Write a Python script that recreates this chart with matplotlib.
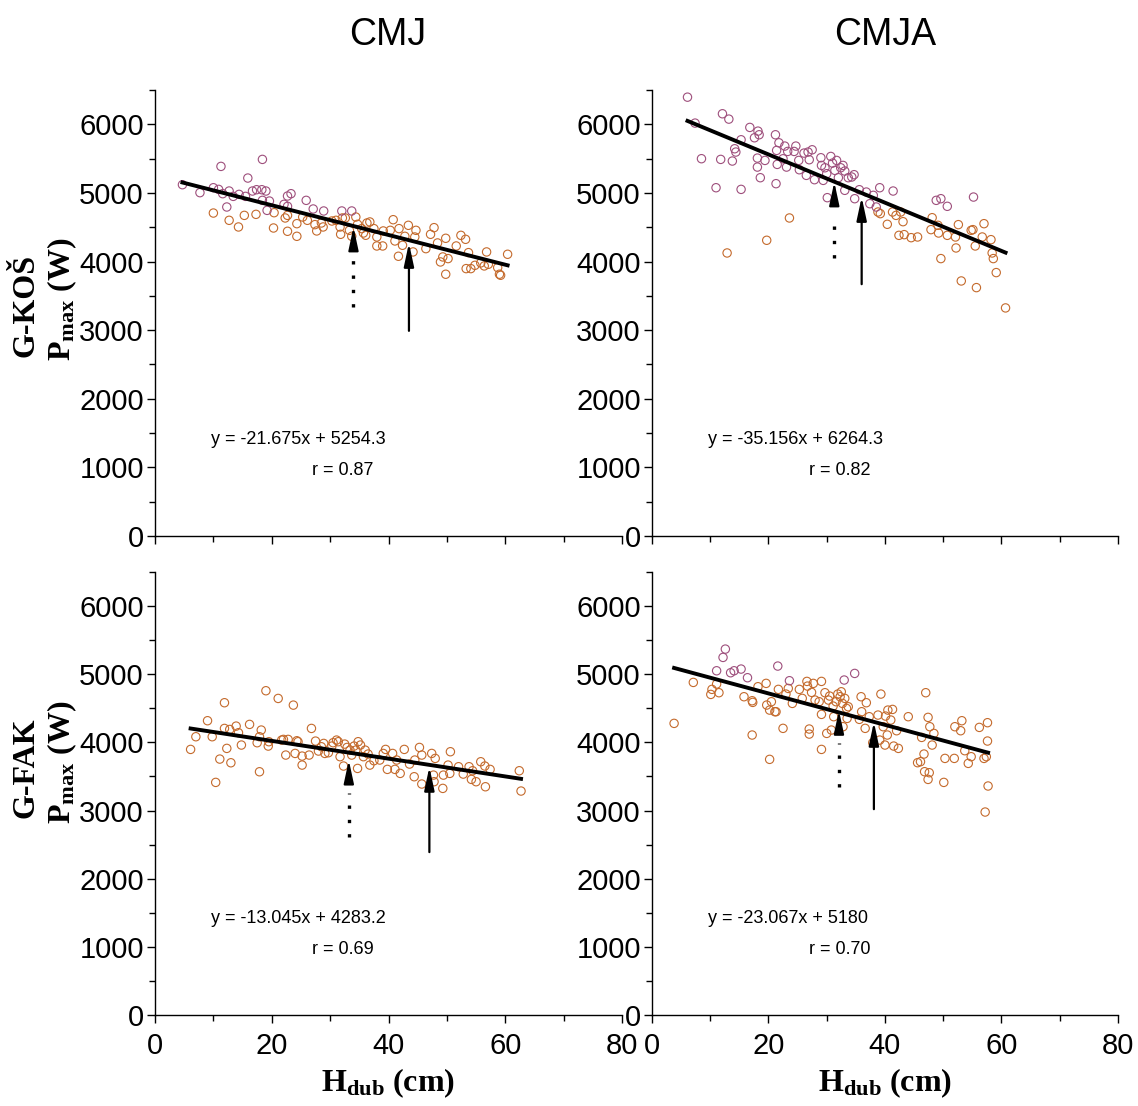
import numpy as np
import matplotlib
matplotlib.use("Agg")
from matplotlib import pyplot as plt
from matplotlib import font_manager
from matplotlib.ticker import MultipleLocator

# ---- data ----
# G-KOS / CMJ
tl_x = [4.7, 7.7, 10.0, 10.9, 11.3, 11.6, 12.7, 13.4, 14.4, 15.5, 15.9, 16.7, 17.4, 18.4, 18.3, 19.0, 18.4, 19.2,
        19.6, 22.7, 23.3, 22.1, 22.7, 25.9, 27.1, 28.9, 32.0, 33.7,
        10.0, 12.3, 12.7, 14.3, 15.3, 17.3, 20.3, 20.4, 22.3, 22.7, 22.7, 24.3, 24.3, 25.3, 26.1, 27.4, 27.7,
        28.5, 28.8, 30.3, 31.0, 31.7, 31.8, 32.1, 32.6, 33.3, 33.7, 34.4, 34.7, 35.4, 35.7, 36.3, 36.8, 36.1,
        37.5, 38.0, 38.0, 39.0, 39.1, 40.3, 40.8, 41.1, 41.7, 41.8, 42.4, 42.8, 43.4, 44.2, 44.5, 44.7, 46.4,
        47.2, 47.8, 48.4, 48.9, 49.3, 49.8, 49.8, 50.2, 51.6, 52.4, 53.2, 53.3, 53.7, 54.1, 54.8, 55.8, 56.4,
        56.8, 57.1, 58.7, 59.0, 59.2, 60.4]
tl_y = [5120, 5004, 5076, 5052, 5387, 4989, 5028, 4950, 4979, 4950, 5217, 5028, 5047, 5489, 5047, 5028, 4892, 4746,
        4882, 4955, 4989, 4834, 4805, 4892, 4766, 4737, 4737, 4737,
        4707, 4795, 4601, 4504, 4673, 4688, 4489, 4712, 4635, 4441, 4673, 4552, 4368, 4649, 4601, 4538, 4446,
        4562, 4504, 4591, 4601, 4504, 4397, 4635, 4635, 4455, 4368, 4649, 4543, 4480, 4416, 4562, 4577, 4383,
        4480, 4358, 4227, 4227, 4446, 4455, 4610, 4300, 4077, 4480, 4237, 4368, 4528, 4140, 4358, 4455, 4188,
        4397, 4494, 4271, 3994, 4067, 3815, 4339, 4043, 4227, 4382, 4324, 3897, 4130, 3897, 3945, 3980, 3936,
        4140, 3960, 3912, 3815, 3800, 4106]

# G-KOS / CMJA
tr_x = [6.1, 7.4, 8.5, 11.8, 12.1, 13.2, 13.8, 14.2, 14.4, 11.0, 15.3, 15.3, 16.8, 17.6, 18.2, 18.4, 18.1, 18.1,
        18.6, 19.4, 21.2, 21.8, 21.4, 21.5, 21.3, 22.5, 22.8, 23.1, 23.3, 24.4, 24.7, 25.2, 25.3, 26.1, 26.5,
        27.0, 26.8, 27.5, 27.9, 29.0, 29.1, 29.4, 29.7, 30.0, 30.1, 30.7, 31.0, 31.4, 31.7, 32.0, 32.4, 32.8,
        33.1, 33.1, 33.7, 34.3, 34.7, 34.8, 35.6, 36.8, 37.4, 38.0, 38.5, 39.1, 41.4, 48.8, 49.6, 50.7, 55.2,
        12.9, 19.7, 23.6, 38.8, 39.2, 40.4, 41.3, 41.9, 42.4, 42.7, 43.1, 43.3, 44.5, 45.6, 48.1, 47.9, 49.1,
        49.2, 49.6, 50.7, 52.1, 52.2, 52.6, 53.1, 54.8, 55.1, 55.5, 55.7, 56.7, 57.0, 58.2, 58.4, 58.6, 59.1,
        60.7]
tr_y = [6396, 6018, 5499, 5489, 6154, 6076, 5465, 5644, 5596, 5076, 5052, 5775, 5955, 5804, 5901, 5848, 5508, 5377,
        5222, 5474, 5848, 5731, 5620, 5416, 5135, 5498, 5683, 5377, 5605, 5605, 5683, 5474, 5338, 5581, 5256,
        5484, 5596, 5629, 5193, 5513, 5401, 5183, 5367, 5280, 4931, 5532, 5435, 5329, 5474, 5222, 5367, 5401,
        5319, 5038, 5222, 5232, 5266, 4916, 5047, 5013, 4843, 4965, 4795, 5076, 5028, 4892, 4916, 4805, 4940,
        4125, 4310, 4635, 4722, 4698, 4543, 4722, 4673, 4382, 4722, 4581, 4392, 4348, 4358, 4639, 4465, 4528,
        4416, 4043, 4382, 4358, 4198, 4538, 3717, 4455, 4465, 4227, 3620, 4358, 4552, 4319, 4125, 4043, 3839,
        3324]

# G-FAK / CMJ
bl_x = [6.1, 7.0, 9.0, 9.8, 10.4, 11.1, 11.9, 11.9, 12.3, 12.8, 13.0, 13.9, 14.3, 14.8, 16.2, 17.5, 17.9, 17.9,
        18.2, 19.0, 19.4, 19.5, 21.1, 21.7, 22.0, 22.4, 22.8, 23.7, 24.0, 24.3, 24.5, 25.2, 25.2, 26.4, 26.8,
        27.5, 28.0, 28.5, 28.9, 29.1, 29.7, 30.3, 30.5, 31.1, 31.4, 31.7, 32.3, 32.5, 32.9, 33.4, 33.7, 34.1,
        34.4, 34.7, 34.8, 35.2, 35.7, 36.0, 36.5, 36.8, 37.5, 38.5, 39.1, 39.5, 39.8, 40.7, 41.1, 41.4, 42.0,
        42.7, 43.6, 44.4, 44.5, 45.3, 45.7, 45.7, 47.4, 47.7, 48.0, 47.8, 49.3, 49.4, 50.2, 50.5, 50.6, 52.0,
        52.8, 53.8, 54.2, 54.4, 55.0, 55.8, 56.5, 56.6, 57.4, 62.4, 62.7]
bl_y = [3897, 4083, 4318, 4083, 3413, 3755, 4205, 4582, 3912, 4190, 3701, 4239, 4142, 3961, 4264, 3995, 3569, 4083,
        4181, 4758, 3946, 4010, 4645, 4034, 4044, 3814, 4044, 4547, 3838, 4024, 4010, 3667, 3799, 3814, 4205,
        4019, 3873, 3936, 3985, 3838, 3848, 3946, 3995, 4034, 4010, 3790, 3653, 3975, 3926, 3887, 3814, 3946,
        3887, 3618, 4010, 3961, 3790, 3887, 3829, 3667, 3731, 3741, 3838, 3897, 3604, 3838, 3604, 3741, 3545,
        3897, 3682, 3496, 3741, 3926, 3814, 3389, 3838, 3520, 3765, 3423, 3325, 3520, 3667, 3545, 3863, 3643,
        3535, 3643, 3457, 3584, 3423, 3716, 3653, 3349, 3604, 3584, 3286]

# G-FAK / CMJA
br_x = [12.6, 12.2, 11.1, 13.5, 14.1, 15.3, 16.4, 21.6, 34.8, 33.0,
        3.8, 7.1, 10.3, 10.1, 11.1, 11.5, 15.8, 17.2, 17.3, 17.2, 18.2, 19.6, 19.7, 20.2, 20.5, 21.1, 21.3, 20.2,
        21.7, 22.5, 23.0, 23.4, 23.6, 24.1, 25.3, 25.8, 26.6, 26.7, 27.0, 27.0, 27.4, 27.7, 28.0, 28.7, 29.1,
        29.1, 29.1, 29.7, 30.0, 30.3, 30.5, 30.8, 31.1, 31.2, 31.6, 31.9, 32.3, 32.5, 32.7, 32.8, 33.1, 33.4,
        33.5, 33.7, 35.6, 35.9, 36.0, 36.6, 36.8, 37.3, 37.9, 38.8, 39.1, 39.3, 39.7, 40.0, 40.1, 40.4, 40.5,
        41.0, 41.3, 41.5, 42.0, 42.3, 44.0, 45.6, 46.1, 46.3, 46.7, 46.8, 47.0, 47.4, 47.6, 47.7, 47.4, 48.1,
        48.4, 50.1, 50.3, 51.9, 52.0, 53.0, 53.2, 53.7, 54.3, 54.8, 56.2, 57.0, 57.4, 57.6, 57.6, 57.7, 57.2]
br_y = [5369, 5247, 5051, 5022, 5051, 5076, 4949, 5120, 5012, 4915,
        4279, 4880, 4778, 4704, 4856, 4729, 4670, 4611, 4587, 4108, 4817, 4866, 4548, 4474, 4597, 4450, 4450, 3751,
        4778, 4206, 4709, 4792, 4905, 4572, 4778, 4646, 4895, 4826, 4122, 4196, 4734, 4866, 4621, 4597, 4895,
        4411, 3897, 4729, 4132, 4621, 4680, 4181, 4533, 4377, 4597, 4709, 4670, 4743, 4572, 4230, 4646, 4499,
        4352, 4523, 4338, 4670, 4450, 4206, 4582, 4377, 3995, 4401, 4034, 4709, 4230, 3961, 4386, 4108, 4474,
        4328, 4484, 3946, 4171, 3912, 4377, 3702, 3717, 4073, 3829, 3570, 4729, 4367, 3555, 4230, 3457, 3961,
        4132, 3413, 3765, 3765, 4230, 4171, 4318, 3878, 3692, 3790, 4220, 3765, 3790, 4289, 4020, 3360, 2978]

slopes = [-21.675, -35.156, -13.045, -23.067]
intercepts = [5254.3, 6264.3, 4283.2, 5180]
eq_labels = ["y = -21.675x + 5254.3", "y = -35.156x + 6264.3", "y = -13.045x + 4283.2", "y = -23.067x + 5180"]
r_labels = ["r = 0.87", "r = 0.82", "r = 0.69", "r = 0.70"]

# arrows: x position, tip, bottom of shaft
dot_x = [34.0, 31.3, 33.2, 32.1]
dot_tip = [4504, 5160, 3740, 4470]
dot_bottom = [3340, 4050, 2616, 3350]
sol_x = [43.5, 36.0, 47.0, 38.1]
sol_tip = [4270, 4940, 3640, 4300]
sol_bottom = [2990, 3670, 2390, 3020]

col_titles = ["CMJ", "CMJA"]
row_titles = ["G-KOŠ", "G-FAK"]

# ---- style ----
purple = "#9e4f7c"
orange = "#c46a2c"
split = [4730, 4750, 99999, 4900]

installed = set(f.name for f in font_manager.fontManager.ttflist)
narrow = [f for f in ["Liberation Sans Narrow", "Liberation Sans"] if f in installed] + ["DejaVu Sans"]
plt.rcParams["mathtext.fontset"] = "custom"
plt.rcParams["mathtext.rm"] = "Liberation Serif"
plt.rcParams["mathtext.bf"] = "Liberation Serif:bold"

fig = plt.figure(figsize=(11.38, 11.06), dpi=100)
boxes = [[0.1362, 0.5154, 0.4104, 0.4032], [0.5729, 0.5154, 0.4095, 0.4032],
         [0.1362, 0.0823, 0.4104, 0.4005], [0.5729, 0.0823, 0.4095, 0.4005]]
data = [(tl_x, tl_y), (tr_x, tr_y), (bl_x, bl_y), (br_x, br_y)]

for i in range(4):
    ax = fig.add_axes(boxes[i])
    x = np.array(data[i][0])
    y = np.array(data[i][1])
    hi = y >= split[i]
    ax.scatter(x[~hi], y[~hi], s=36, facecolors="none", edgecolors=orange, linewidths=0.8, zorder=2)
    ax.scatter(x[hi], y[hi], s=36, facecolors="none", edgecolors=purple, linewidths=0.8, zorder=2)
    xx = np.array([x.min(), x.max()])
    ax.plot(xx, slopes[i] * xx + intercepts[i], color="black", lw=2.8, zorder=3)

    # dotted arrow
    ax.plot([dot_x[i], dot_x[i]], [dot_bottom[i], dot_tip[i] - 480], color="black", lw=2.4,
            dashes=(1, 3.3), dash_capstyle="butt", zorder=4)
    ax.annotate("", xy=(dot_x[i], dot_tip[i]), xytext=(dot_x[i], dot_tip[i] - 290),
                arrowprops=dict(arrowstyle="-|>,head_length=1.4,head_width=0.3", color="black",
                                lw=1.5, shrinkA=0, shrinkB=0, mutation_scale=10), zorder=4)
    # solid arrow
    ax.annotate("", xy=(sol_x[i], sol_tip[i]), xytext=(sol_x[i], sol_bottom[i]),
                arrowprops=dict(arrowstyle="-|>,head_length=1.4,head_width=0.3", color="black",
                                lw=1.6, shrinkA=0, shrinkB=0, mutation_scale=10), zorder=4)

    ax.text(9.6, 1410, eq_labels[i], fontsize=13, family=narrow, va="center", ha="left")
    ax.text(26.9, 960, r_labels[i], fontsize=13, family=narrow, va="center", ha="left")

    ax.set_xlim(0, 80)
    ax.set_ylim(0, 6500)
    ax.xaxis.set_major_locator(MultipleLocator(20))
    ax.xaxis.set_minor_locator(MultipleLocator(10))
    ax.yaxis.set_major_locator(MultipleLocator(1000))
    ax.yaxis.set_minor_locator(MultipleLocator(500))
    ax.spines["top"].set_visible(False)
    ax.spines["right"].set_visible(False)
    for s in ["left", "bottom"]:
        ax.spines[s].set_linewidth(1.0)
    ax.tick_params(which="major", direction="out", length=6, width=1, pad=2)
    ax.tick_params(which="minor", direction="out", length=4, width=1)
    ax.tick_params(axis="x", which="major", pad=6)
    for lab in ax.get_xticklabels() + ax.get_yticklabels():
        lab.set_family(narrow)
        lab.set_fontsize(21)
    if i < 2:
        ax.tick_params(axis="x", labelbottom=False)
    else:
        ax.set_xlabel(r"$\mathbf{H_{dub}}$ (cm)", family="Liberation Serif", fontweight="bold",
                      fontsize=23, labelpad=5)

fig.text(0.341, 0.968, col_titles[0], family=narrow, fontsize=27, ha="center", va="center")
fig.text(0.778, 0.968, col_titles[1], family=narrow, fontsize=27, ha="center", va="center")
for ycen, name in zip([0.724, 0.306], row_titles):
    fig.text(0.023, ycen, name, family="Liberation Serif", fontweight="bold", fontsize=23,
             rotation=90, ha="center", va="center")
    fig.text(0.055, ycen + 0.005, r"$\mathbf{P_{max}}$ (W)", family="Liberation Serif", fontweight="bold",
             fontsize=23, rotation=90, ha="center", va="center")

fig.savefig("out.png", dpi=100)
